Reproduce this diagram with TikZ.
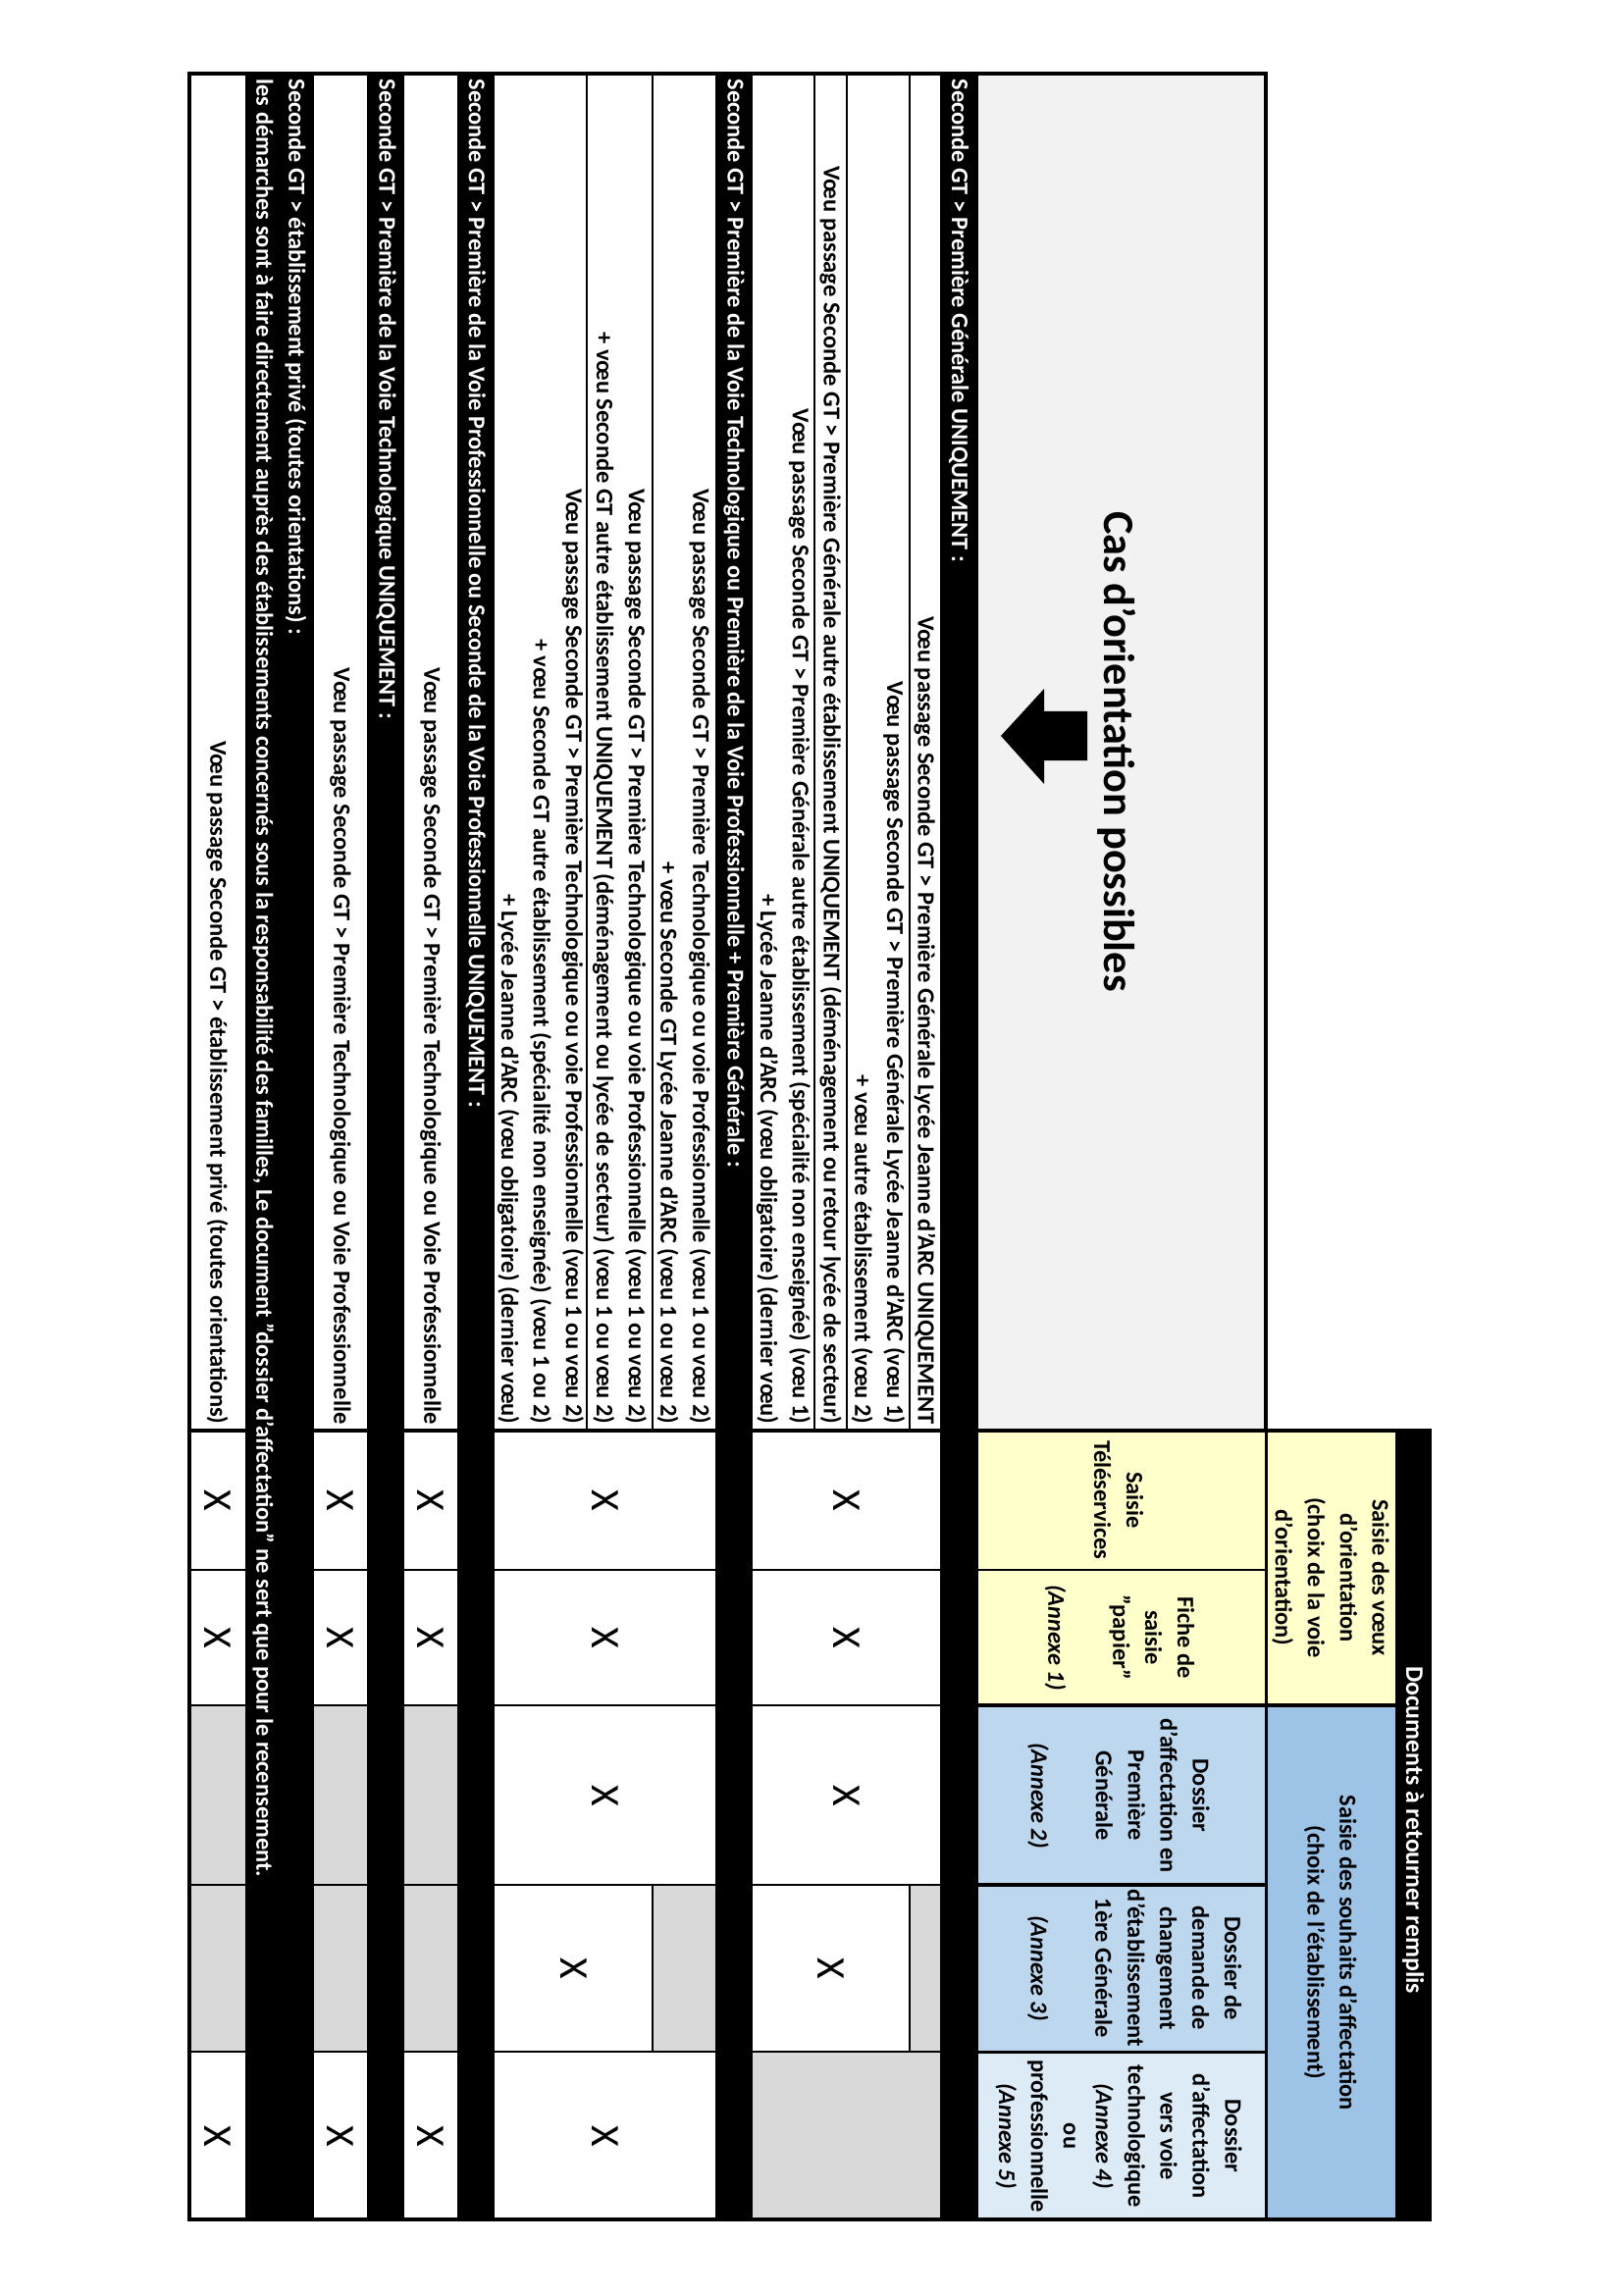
\documentclass[tikz,border=0pt]{standalone}
\usepackage{fontspec}
\setmainfont{Carlito}
\usepackage{tikz}

\definecolor{jaune}{HTML}{FFFFCC}
\definecolor{bleu}{HTML}{9DC3E6}
\definecolor{bleuclair}{HTML}{BDD7EE}
\definecolor{bleupale}{HTML}{DDEBF7}
\definecolor{grisfond}{HTML}{F2F2F2}
\definecolor{griscase}{HTML}{D9D9D9}

\begin{document}
\begin{tikzpicture}[x=0.127mm, y=-0.127mm,
    ligne/.style={line width=0.75pt},
    cadre/.style={line width=1.1pt},
    cas/.style={rotate=-90, anchor=east, inner sep=0pt, align=right, font=\fontsize{8.85}{11.9}\selectfont\bfseries},
    titre/.style={rotate=-90, anchor=west, inner sep=0pt, align=left, text=white, font=\fontsize{8.8}{11.9}\selectfont\bfseries},
    entete/.style={rotate=-90, inner sep=0pt, align=center, font=\fontsize{8.8}{11.9}\selectfont\bfseries},
    croix/.style={rotate=-90, inner sep=0pt, font=\fontsize{15}{15}\selectfont}]
    \useasboundingbox (0,0) rectangle (1654,2339);

    \fill[grisfond] (997,75) rectangle (1290,1458);
    \fill[jaune] (997,1458) rectangle (1422,1738);
    \fill[bleu] (1290,1738) rectangle (1422,2262);
    \fill[bleuclair] (997,1738) rectangle (1290,2091);
    \fill[bleupale] (997,2091) rectangle (1290,2262);
    \fill[griscase] (927,1921) rectangle (958,2091);
    \fill[griscase] (767,2091) rectangle (958,2262);
    \fill[griscase] (665,1921) rectangle (729,2091);
    \foreach \a/\b in {412/466, 320/374, 193/250}
        \fill[griscase] (\a,1738) rectangle (\b,2091);

    \foreach \r in {598,665,830,863,927}
        \draw[ligne] (\r,75) -- (\r,1458);
    \foreach \c in {1600,1738,1921,2091}
        \draw[ligne] (193,\c) -- (997,\c);
    \draw[ligne] (927,1921) -- (927,2091);
    \draw[ligne] (665,1921) -- (665,2091);
    \draw[ligne] (997,1600) -- (1290,1600);
    \foreach \c/\h in {1738/1422, 1921/1290, 2091/1290}
        \draw[cadre] (997,\c) -- (\h,\c);
    \draw[cadre] (1290,1458) -- (1290,2262);
    \draw[cadre] (193,1458) -- (1457,1458);

    \foreach \a/\b in {958/997, 729/767, 466/504, 374/412, 250/320}
        \fill (\a,75) rectangle (\b,2262);
    \fill (1422,1458) rectangle (1457,2262);
    \draw[line width=1.5pt] (193,75) -- (1290,75) -- (1290,1458) -- (1457,1458) -- (1457,2262) -- (193,2262) -- cycle;

    \node[rotate=-90, font=\fontsize{16}{16}\selectfont\bfseries] (titrecas) at (1138,766) {Cas d'orientation possibles};
    \fill (1020,750) -- (1064,702) -- (1064,725) -- (1108,725) -- (1108,775) -- (1064,775) -- (1064,799) -- cycle;

    \node[entete, text=white, font=\fontsize{9.3}{11.9}\selectfont\bfseries] (docs) at (1440,1865) {Documents à retourner remplis};
    \node[entete] (voeux) at (1356,1608) {Saisie des vœux\\d'orientation\\(choix de la voie\\d'orientation)};
    \node[entete] (souhaits) at (1356,1990) {Saisie des souhaits d'affectation\\(choix de l'établissement)};
    \node[entete] (teleserv) at (1140,1529) {Saisie\\Téléservices};
    \node[entete] (fiche) at (1141,1669) {Fiche de\\saisie\\"papier"\\[11.9pt]\textit{(Annexe 1)}};
    \node[entete] (annexe2) at (1140,1830) {Dossier\\d'affectation en\\Première\\Générale\\[11.9pt]\textit{(Annexe 2)}};
    \node[entete] (annexe3) at (1156,2006) {Dossier de\\demande de\\changement\\d'établissement\\1ère Générale\\[11.9pt]\textit{(Annexe 3)}};
    \node[entete] (annexe45) at (1140,2177) {Dossier\\d'affectation\\vers voie\\technologique\\\textit{(Annexe 4)}\\ou\\professionnelle\\\textit{(Annexe 5)}};

    \node[titre] (gen) at (977,80) {Seconde GT > Première Générale UNIQUEMENT :};
    \node[cas] (gen1) at (942.5,1452) {Vœu passage Seconde GT > Première Générale Lycée Jeanne d'ARC UNIQUEMENT};
    \node[cas] (gen2) at (895,1452) {Vœu passage Seconde GT > Première Générale Lycée Jeanne d'ARC (vœu 1)\\+ vœu autre établissement (vœu 2)};
    \node[cas] (gen3) at (846.5,1452) {Vœu passage Seconde GT > Première Générale autre établissement UNIQUEMENT (déménagement ou retour lycée de secteur)};
    \node[cas] (gen4) at (798.5,1452) {Vœu passage Seconde GT > Première Générale autre établissement (spécialité non enseignée) (vœu 1)\\+ Lycée Jeanne d'ARC (vœu obligatoire) (dernier vœu)};

    \node[titre] (techgen) at (748,80) {Seconde GT > Première de la Voie Technologique ou Première de la Voie Professionnelle + Première Générale :};
    \node[cas] (techgen1) at (697,1452) {Vœu passage Seconde GT > Première Technologique ou voie Professionnelle (vœu 1 ou vœu 2)\\+ vœu Seconde GT Lycée Jeanne d'ARC (vœu 1 ou vœu 2)};
    \node[cas] (techgen2) at (631.5,1452) {Vœu passage Seconde GT > Première Technologique ou voie Professionnelle (vœu 1 ou vœu 2)\\+ vœu Seconde GT autre établissement UNIQUEMENT (déménagement ou lycée de secteur) (vœu 1 ou vœu 2)};
    \node[cas] (techgen3) at (551,1452) {Vœu passage Seconde GT > Première Technologique ou voie Professionnelle (vœu 1 ou vœu 2)\\+ vœu Seconde GT autre établissement (spécialité non enseignée) (vœu 1 ou 2)\\+ Lycée Jeanne d'ARC (vœu obligatoire) (dernier vœu)};

    \node[titre] (pro) at (485,80) {Seconde GT > Première de la Voie Professionnelle ou Seconde de la Voie Professionnelle UNIQUEMENT :};
    \node[cas] (pro1) at (439,1452) {Vœu passage Seconde GT > Première Technologique ou Voie Professionnelle};
    \node[titre] (tech) at (393,80) {Seconde GT > Première de la Voie Technologique UNIQUEMENT :};
    \node[cas] (tech1) at (347,1452) {Vœu passage Seconde GT > Première Technologique ou Voie Professionnelle};
    \node[titre] (prive) at (285,80) {Seconde GT > établissement privé (toutes orientations) :\\les démarches sont à faire directement auprès des établissements concernés sous la responsabilité des familles, Le document "dossier d'affectation" ne sert que pour le recensement.};
    \node[cas] (prive1) at (221.5,1452) {Vœu passage Seconde GT > établissement privé (toutes orientations)};

    \foreach \r/\c [count=\i] in {862.5/1529, 862.5/1669, 862.5/1830, 847/2006,
            616.5/1529, 616.5/1669, 616.5/1830, 584.5/2006, 616.5/2177,
            439/1529, 439/1669, 439/2177, 347/1529, 347/1669, 347/2177,
            221.5/1529, 221.5/1669, 221.5/2177}
        \node[croix] (x\i) at (\r,\c) {X};
\end{tikzpicture}
\end{document}
